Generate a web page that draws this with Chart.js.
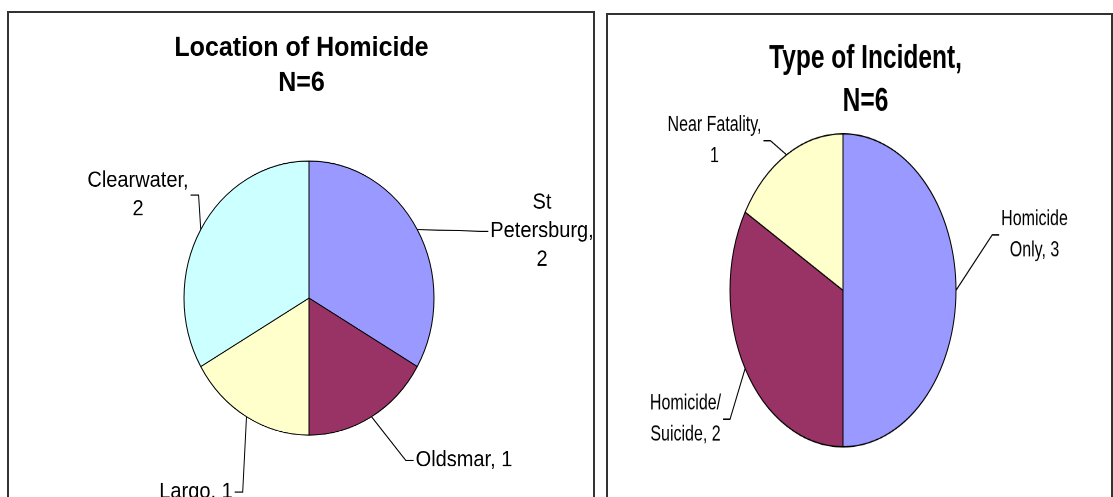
<!DOCTYPE html>
<html>
<head>
<meta charset="utf-8">
<script src="https://cdn.jsdelivr.net/npm/chart.js@4.4.1/dist/chart.umd.min.js"></script>
<style>
  html, body { margin: 0; padding: 0; background: #fff; overflow: hidden; }
  body { width: 1113px; height: 497px; position: relative; }
  .panel { position: absolute; border: 2px solid #333; box-sizing: border-box; }
  #leftPanel { left: 7px; top: 11px; width: 588px; height: 540px; }
  #rightPanel { left: 606px; top: 13px; width: 507px; height: 540px; }
  canvas { position: absolute; transform-origin: 0 0; }
  /* the original charts are stretched vertically, so the pies are ellipses */
  #locationChart { left: 8px; top: 12px; transform: scaleY(1.096); }
  #incidentChart { left: 607px; top: 14px; transform: scaleY(1.385); }
</style>
</head>
<body>
<div class="panel" id="leftPanel"></div>
<div class="panel" id="rightPanel"></div>
<canvas id="locationChart" width="586" height="443"></canvas>
<canvas id="incidentChart" width="505" height="349"></canvas>
<script>
// data
const locationLabels = ['St Petersburg', 'Oldsmar', 'Largo', 'Clearwater'];
const locationCounts = [2, 1, 1, 2];
const incidentLabels = ['Homicide Only', 'Homicide/Suicide', 'Near Fatality'];
const incidentCounts = [3, 2, 1];

const locationColors = ['#9999FF', '#993366', '#FFFFCC', '#CCFFFF'];
const incidentColors = ['#9999FF', '#993366', '#FFFFCC'];

const FONT = "'Liberation Sans', Arial, sans-serif";
const total = arr => arr.reduce((a, b) => a + b, 0);

// split on spaces and after a slash, then fill lines up to maxW
function wrapText(ctx, text, maxW) {
  const parts = text.split(/(?<=[ \/])/);
  const lines = [];
  let line = '';
  parts.forEach(p => {
    const test = line + p;
    if (line && ctx.measureText(test.trimEnd()).width > maxW) {
      lines.push(line.trimEnd());
      line = p;
    } else {
      line = test;
    }
  });
  if (line) lines.push(line.trimEnd());
  return lines;
}

// Excel style data labels with leader lines, plus the two line title
const callouts = {
  id: 'callouts',
  afterDatasetsDraw(chart, args, opts) {
    const ctx = chart.ctx;
    const arcs = chart.getDatasetMeta(0).data;
    const labels = chart.data.labels;
    const values = chart.data.datasets[0].data;
    ctx.save();
    ctx.font = opts.size + 'px ' + FONT;
    ctx.fillStyle = '#000';
    ctx.strokeStyle = '#000';
    ctx.lineWidth = 1;
    ctx.textAlign = 'center';
    ctx.textBaseline = 'middle';
    arcs.forEach((arc, i) => {
      const p = arc.getProps(['x', 'y', 'startAngle', 'endAngle', 'outerRadius'], true);
      const mid = (p.startAngle + p.endAngle) / 2;
      const ex = p.x + Math.cos(mid) * p.outerRadius;
      const ey = p.y + Math.sin(mid) * p.outerRadius;
      const item = opts.items[i];
      const lines = wrapText(ctx, labels[i] + ', ' + values[i], item.wrap);
      const cx = p.x + item.dx, cy = p.y + item.dy;
      const w = Math.max(...lines.map(l => ctx.measureText(l).width));
      const side = cx > p.x ? -1 : 1;
      const ax = cx + side * (w / 2 + 2);
      const bx = ax + side * opts.elbow;
      ctx.beginPath();
      ctx.moveTo(ex, ey);
      ctx.lineTo(bx, cy);
      ctx.lineTo(ax, cy);
      ctx.stroke();
      const top = cy - (lines.length - 1) * opts.lineHeight / 2;
      lines.forEach((l, k) => ctx.fillText(l, cx, top + k * opts.lineHeight));
    });

    ctx.font = 'bold ' + opts.titleSize + 'px ' + FONT;
    ctx.textBaseline = 'alphabetic';
    opts.title.forEach((t, k) => ctx.fillText(t, opts.titleX, opts.titleY + k * opts.titleGap));
    ctx.restore();
  }
};

new Chart(document.getElementById('locationChart'), {
  type: 'pie',
  data: {
    labels: locationLabels,
    datasets: [{
      data: locationCounts,
      backgroundColor: locationColors,
      borderColor: '#000',
      borderWidth: 1,
      radius: 125
    }]
  },
  options: {
    responsive: false,
    animation: false,
    devicePixelRatio: 2,
    layout: { padding: { left: 16, right: 0, top: 89, bottom: 10 } },
    plugins: {
      legend: { display: false },
      tooltip: { enabled: false },
      callouts: {
        title: ['Location of Homicide', 'N=' + total(locationCounts)],
        titleX: 293.5, titleY: 40, titleGap: 32, titleSize: 25,
        size: 20, lineHeight: 26, elbow: 8,
        items: [
          { dx: 233, dy: -61, wrap: 105 },
          { dx: 155, dy: 148, wrap: 200 },
          { dx: -113, dy: 177, wrap: 200 },
          { dx: -171, dy: -94, wrap: 110 }
        ]
      }
    }
  },
  plugins: [callouts]
});

new Chart(document.getElementById('incidentChart'), {
  type: 'pie',
  data: {
    labels: incidentLabels,
    datasets: [{
      data: incidentCounts,
      backgroundColor: incidentColors,
      borderColor: '#000',
      borderWidth: 1,
      radius: 113
    }]
  },
  options: {
    responsive: false,
    animation: false,
    devicePixelRatio: 2,
    layout: { padding: { left: 0, right: 33, top: 60, bottom: 10 } },
    plugins: {
      legend: { display: false },
      tooltip: { enabled: false },
      callouts: {
        title: ['Type of Incident,', 'N=' + total(incidentCounts)],
        titleX: 258.5, titleY: 39, titleGap: 31, titleSize: 24.5,
        size: 16, lineHeight: 22.4, elbow: 7,
        items: [
          { dx: 191.5, dy: -40, wrap: 72 },
          { dx: -157.5, dy: 93, wrap: 76 },
          { dx: -128.5, dy: -108, wrap: 100 }
        ]
      }
    }
  },
  plugins: [callouts]
});
</script>
</body>
</html>
